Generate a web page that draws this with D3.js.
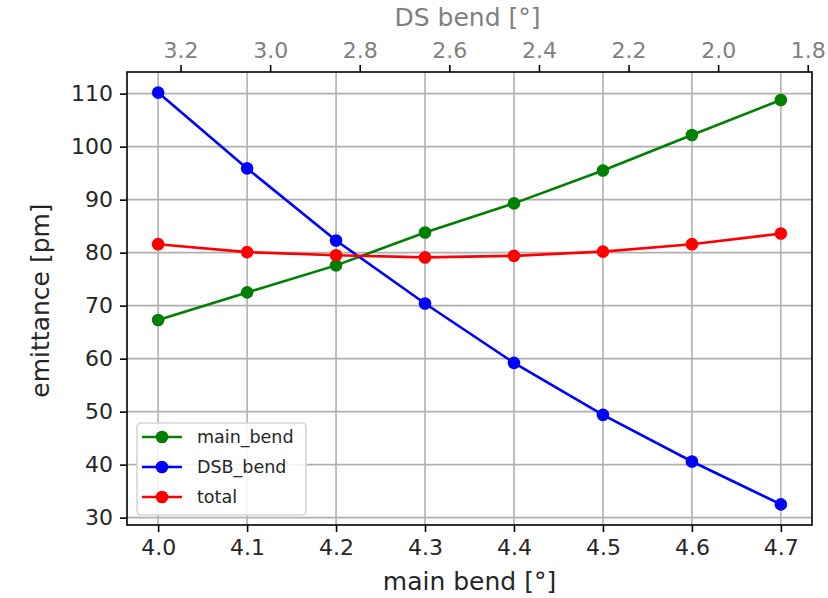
<!DOCTYPE html>
<html>
<head>
<meta charset="utf-8">
<script src="https://cdn.jsdelivr.net/npm/d3@7"></script>
<style>
  body { margin: 0; background: #fff; }
  svg { display: block; font-family: "DejaVu Sans", sans-serif; }
</style>
</head>
<body>
<svg id="chart" width="828" height="598"></svg>
<script>
// main bend angles [deg] (bottom axis)
const mainBend = [4.0, 4.1, 4.2, 4.3, 4.4, 4.5, 4.6, 4.7];
// DS bend angle at first and last point [deg] (top axis)
const dsBendEnds = [3.25, 1.86];

const mainBendEmit = [67.3, 72.5, 77.6, 83.8, 89.3, 95.5, 102.2, 108.8];
const dsbBendEmit = [110.2, 95.9, 82.3, 70.4, 59.2, 49.4, 40.6, 32.5];
const totalEmit = [81.6, 80.1, 79.5, 79.1, 79.4, 80.2, 81.6, 83.6];

const xTicks = [4.0, 4.1, 4.2, 4.3, 4.4, 4.5, 4.6, 4.7];
const yTicks = [30, 40, 50, 60, 70, 80, 90, 100, 110];
const topTicks = [3.2, 3.0, 2.8, 2.6, 2.4, 2.2, 2.0, 1.8];

const series = [
  {name: "main_bend", values: mainBendEmit, color: "#008000"},
  {name: "DSB_bend", values: dsbBendEmit, color: "#0000ff"},
  {name: "total", values: totalEmit, color: "#ff0000"}
];

let margin = ({top: 72, right: 16, bottom: 73, left: 127});
let width = 828;
let height = 598;

function pad(ext) {
  const d = (ext[1] - ext[0]) * 0.05;
  return [ext[0] - d, ext[1] + d];
}

const x = d3.scaleLinear()
  .domain(pad(d3.extent(mainBend)))
  .range([margin.left, width - margin.right]);

const allVals = series.flatMap(s => s.values);
const y = d3.scaleLinear()
  .domain(pad(d3.extent(allVals)))
  .range([height - margin.bottom, margin.top]);

const dsPad = (dsBendEnds[0] - dsBendEnds[1]) * 0.05;
const xTop = d3.scaleLinear()
  .domain([dsBendEnds[0] + dsPad, dsBendEnds[1] - dsPad])
  .range([margin.left, width - margin.right]);

const svg = d3.select("#chart");

// grid
const grid = svg.append("g").attr("stroke", "#b0b0b0").attr("stroke-width", 1.6);
grid.selectAll(".gx").data(xTicks).join("line")
  .attr("x1", d => x(d)).attr("x2", d => x(d))
  .attr("y1", margin.top).attr("y2", height - margin.bottom);
grid.selectAll(".gy").data(yTicks).join("line")
  .attr("x1", margin.left).attr("x2", width - margin.right)
  .attr("y1", d => y(d)).attr("y2", d => y(d));

// lines + markers
const line = d3.line().x((d, i) => x(mainBend[i])).y(d => y(d));
series.forEach(s => {
  svg.append("path")
    .attr("d", line(s.values))
    .attr("fill", "none")
    .attr("stroke", s.color)
    .attr("stroke-width", 2.6);
  svg.append("g").selectAll("circle").data(s.values).join("circle")
    .attr("cx", (d, i) => x(mainBend[i]))
    .attr("cy", d => y(d))
    .attr("r", 6.3)
    .attr("fill", s.color);
});

// axes
const xAxis = g => g
  .attr("transform", `translate(0,${height - margin.bottom})`)
  .call(d3.axisBottom(x).tickValues(xTicks).tickFormat(d3.format(".1f")).tickSize(7).tickPadding(7))
  .call(g => g.select(".domain").remove());

const yAxis = g => g
  .attr("transform", `translate(${margin.left},0)`)
  .call(d3.axisLeft(y).tickValues(yTicks).tickSize(7).tickPadding(7))
  .call(g => g.select(".domain").remove());

const topAxis = g => g
  .attr("transform", `translate(0,${margin.top})`)
  .call(d3.axisTop(xTop).tickValues(topTicks).tickFormat(d3.format(".1f")).tickSize(7).tickPadding(7))
  .call(g => g.select(".domain").remove())
  .call(g => g.selectAll("text").attr("fill", "#808080"));

[xAxis, yAxis, topAxis].forEach(a => {
  svg.append("g").call(a)
    .call(g => g.selectAll("line").attr("stroke", "#000").attr("stroke-width", 1.6))
    .call(g => g.selectAll("text").attr("font-size", 22).attr("font-family", "DejaVu Sans"));
});
svg.selectAll("g text").filter(function() { return !this.getAttribute("fill") || this.getAttribute("fill") === "currentColor"; })
  .attr("fill", "#262626");

// frame
svg.append("rect")
  .attr("x", margin.left).attr("y", margin.top)
  .attr("width", width - margin.left - margin.right)
  .attr("height", height - margin.top - margin.bottom)
  .attr("fill", "none").attr("stroke", "#000").attr("stroke-width", 1.6);

// axis titles
svg.append("text")
  .attr("x", (margin.left + width - margin.right) / 2).attr("y", 590)
  .attr("text-anchor", "middle").attr("font-size", 25).attr("fill", "#262626")
  .text("main bend [°]");
svg.append("text")
  .attr("transform", `translate(49,${(margin.top + height - margin.bottom) / 2 + 2}) rotate(-90)`)
  .attr("text-anchor", "middle").attr("font-size", 25).attr("fill", "#262626")
  .text("emittance [pm]");
svg.append("text")
  .attr("x", (margin.left + width - margin.right) / 2 - 2).attr("y", 26)
  .attr("text-anchor", "middle").attr("font-size", 25).attr("fill", "#808080")
  .text("DS bend [°]");

// legend
const leg = svg.append("g").attr("transform", "translate(137,423)");
leg.append("rect")
  .attr("width", 169).attr("height", 92).attr("rx", 4)
  .attr("fill", "#fff").attr("fill-opacity", 0.85)
  .attr("stroke", "#d6d6d6").attr("stroke-width", 1.6);
series.forEach((s, i) => {
  const row = leg.append("g").attr("transform", `translate(0,${14 + i * 30})`);
  row.append("line").attr("x1", 5).attr("x2", 45)
    .attr("stroke", s.color).attr("stroke-width", 2.6);
  row.append("circle").attr("cx", 25).attr("r", 6.3).attr("fill", s.color);
  row.append("text").attr("x", 60).attr("dy", "0.35em")
    .attr("font-size", 17.5).attr("fill", "#262626").text(s.name);
});
</script>
</body>
</html>
